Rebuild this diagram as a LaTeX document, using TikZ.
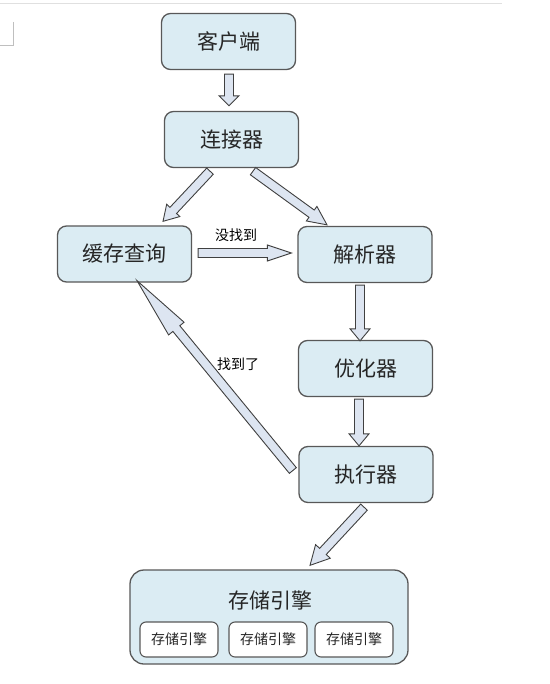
\documentclass[tikz,border=0pt]{standalone}
\usepackage{fontspec}
\setmainfont{Noto Sans CJK SC}
\usetikzlibrary{calc}

\definecolor{boxfill}{RGB}{219,236,243}
\definecolor{arrowfill}{RGB}{221,229,241}
\definecolor{edge}{RGB}{88,88,88}

\tikzset{
  stagebox/.style={draw=edge, line width=1.3pt, fill=boxfill, rounded corners=9pt,
    minimum width=134pt, minimum height=56pt, text=black!85, font=\fontsize{21}{24}\selectfont},
  enginebox/.style={draw=edge, line width=1.1pt, fill=white, rounded corners=6pt,
    minimum width=78pt, minimum height=35pt, text=black!85, font=\fontsize{14}{16}\selectfont},
  blockarrow/.style={draw=black!75, line width=0.9pt, fill=arrowfill, line join=miter},
  lbl/.style={text=black, font=\fontsize{14}{16}\selectfont}
}

% block arrow: #1 head length, #2 head half width, #3 tail, #4 tip
\newcommand{\barrow}[4]{
  \path (#3) coordinate (ba-t) (#4) coordinate (ba-h);
  \path ($(ba-h)!#1pt!(ba-t)$) coordinate (ba-b);
  \draw[blockarrow] ($(ba-t)!4.5pt!90:(ba-h)$) -- ($(ba-b)!4.5pt!90:(ba-h)$)
     -- ($(ba-b)!#2pt!90:(ba-h)$) -- (ba-h) -- ($(ba-b)!#2pt!-90:(ba-h)$)
     -- ($(ba-b)!4.5pt!-90:(ba-h)$) -- ($(ba-t)!4.5pt!-90:(ba-h)$) -- cycle;
}

\begin{document}
\begin{tikzpicture}[x=1pt, y=-1pt]
  \useasboundingbox (0,0) rectangle (549,684);

  %page marks
  \draw[black!12, line width=0.8pt] (0,3) -- (502,3);
  \draw[black!25, line width=0.8pt] (13,22) -- (13,45) -- (0,45);

  %stages
  \node[stagebox] (kh) at (228.5,41.5) {客户端};
  \node[stagebox] (lj) at (231.5,139.5) {连接器};
  \node[stagebox] (hc) at (124.5,254) {缓存查询};
  \node[stagebox] (jx) at (365,254.5) {解析器};
  \node[stagebox] (yh) at (365.5,368.5) {优化器};
  \node[stagebox] (zx) at (366,474.5) {执行器};

  %storage engines
  \node[stagebox, minimum width=278pt, minimum height=94pt, rounded corners=14pt] (cc) at (269,617) {};
  \node[font=\fontsize{21}{24}\selectfont, text=black!85] (cctitle) at (270,600) {存储引擎};
  \foreach \i/\x in {1/179,2/268,3/354}{
    \node[enginebox] (e\i) at (\x,639.5) {存储引擎};
  }

  %arrows
  \barrow{10}{10}{$(kh.south)+(0.5,4)$}{$(lj.north)+(-2.5,-5)$}
  \barrow{15}{9}{$(lj.south)+(-21.5,3)$}{$(hc.north)+(38.5,-4)$}
  \barrow{19}{9}{$(lj.south)+(21.5,3)$}{$(jx.north)+(-38,-1)$}
  \barrow{24}{8}{$(hc.east)+(6,-1)$}{$(jx.west)+(-6,-1.5)$}
  \barrow{12}{10}{$(jx.south)+(-5,2)$}{$(yh.north)+(-5.5,1)$}
  \barrow{12}{10}{$(yh.south)+(-6.5,2)$}{$(zx.north)+(-7,0)$}
  \barrow{62}{10}{$(zx.west)+(-5.5,-4)$}{$(hc.south)+(12.5,-2)$}
  \barrow{19}{10}{$(zx.south)+(-2,4)$}{$(cc.north)+(41,-4)$}

  %labels
  \node[lbl] (miss) at (236,235) {没找到};
  \node[lbl] (hit) at (238,364) {找到了};

\end{tikzpicture}
\end{document}
